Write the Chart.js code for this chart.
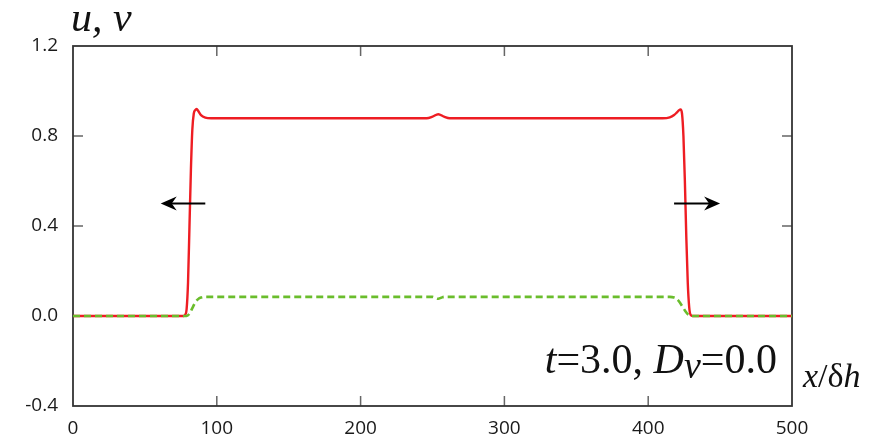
<!DOCTYPE html>
<html>
<head>
<meta charset="utf-8">
<script src="https://cdn.jsdelivr.net/npm/chart.js@4.4.1/dist/chart.umd.min.js"></script>
<style>
  html, body { margin: 0; padding: 0; background: #fff; }
  #wrap { width: 879px; height: 439px; }
</style>
</head>
<body>
<div id="wrap"><canvas id="chart" width="879" height="439"></canvas></div>
<script>
// u profile (red, solid)
const uX = [0, 77, 78, 79, 80, 81, 82, 83, 84, 85, 86, 87, 89, 92, 96, 150, 240, 246, 250, 254, 258, 262, 268, 350, 410, 415, 418, 420, 421.5, 422.5, 423.5, 424.5, 425.5, 426.5, 427.5, 428.5, 429.5, 431, 500];
const uY = [0, 0, 0.005, 0.03, 0.15, 0.4, 0.65, 0.83, 0.9, 0.915, 0.92, 0.912, 0.893, 0.882, 0.879, 0.879, 0.879, 0.879, 0.886, 0.897, 0.886, 0.879, 0.879, 0.879, 0.879, 0.883, 0.893, 0.905, 0.915, 0.918, 0.9, 0.8, 0.6, 0.35, 0.15, 0.04, 0.005, 0, 0];

// v profile (green, dashed)
const vX = [0, 79, 81, 83, 85, 87, 89, 92, 150, 250, 252, 254, 256, 258, 350, 415, 418, 420, 422, 424, 426, 428, 430, 500];
const vY = [0, 0, 0.01, 0.035, 0.06, 0.075, 0.082, 0.085, 0.085, 0.085, 0.081, 0.077, 0.081, 0.085, 0.085, 0.085, 0.082, 0.075, 0.06, 0.04, 0.02, 0.005, 0, 0];

const xTicks = [0, 100, 200, 300, 400, 500];
const yTicks = [-0.4, 0.0, 0.4, 0.8, 1.2];

// arrows, in data units: [tailX, tipX, y]
const arrows = [[92, 61, 0.5], [418, 450, 0.5]];

const toPoints = (xs, ys) => xs.map((x, i) => ({ x: x, y: ys[i] }));

const framePlugin = {
  id: 'frame',
  beforeDatasetsDraw(chart) {
    const { ctx, chartArea: a, scales } = chart;
    ctx.save();
    ctx.strokeStyle = '#666';
    ctx.lineWidth = 1.5;
    // inward ticks
    xTicks.slice(1, -1).forEach(v => {
      const px = scales.x.getPixelForValue(v);
      ctx.beginPath();
      ctx.moveTo(px, a.bottom); ctx.lineTo(px, a.bottom - 10);
      ctx.moveTo(px, a.top); ctx.lineTo(px, a.top + 10);
      ctx.stroke();
    });
    yTicks.slice(1, -1).forEach(v => {
      const py = scales.y.getPixelForValue(v);
      ctx.beginPath();
      ctx.moveTo(a.left, py); ctx.lineTo(a.left + 10, py);
      ctx.moveTo(a.right, py); ctx.lineTo(a.right - 10, py);
      ctx.stroke();
    });
    ctx.strokeStyle = '#333';
    ctx.lineWidth = 1.8;
    ctx.strokeRect(a.left, a.top, a.right - a.left, a.bottom - a.top);
    ctx.restore();
  },
  afterDraw(chart) {
    const { ctx, scales } = chart;
    ctx.save();
    // arrows
    ctx.strokeStyle = '#000';
    ctx.fillStyle = '#000';
    ctx.lineWidth = 2.2;
    arrows.forEach(([x0, x1, yv]) => {
      const p0 = scales.x.getPixelForValue(x0);
      const p1 = scales.x.getPixelForValue(x1);
      const py = scales.y.getPixelForValue(yv);
      const dir = Math.sign(p1 - p0);
      ctx.beginPath();
      ctx.moveTo(p0, py); ctx.lineTo(p1 - dir * 8, py);
      ctx.stroke();
      ctx.beginPath();
      ctx.moveTo(p1, py);
      ctx.lineTo(p1 - dir * 16, py - 7);
      ctx.lineTo(p1 - dir * 11, py);
      ctx.lineTo(p1 - dir * 16, py + 7);
      ctx.closePath();
      ctx.fill();
    });

    // texts
    ctx.fillStyle = '#111';
    ctx.textBaseline = 'alphabetic';
    ctx.textAlign = 'left';
    ctx.font = 'italic 42px "Liberation Serif"';
    ctx.fillText('u, v', 71, 31);

    const big = 42;
    const segs = [
      { t: 't', it: true, dy: 0, sz: big },
      { t: '=3.0, ', it: false, dy: 0, sz: big },
      { t: 'D', it: true, dy: 0, sz: big },
      { t: 'v', it: true, dy: 5, sz: 38 },
      { t: '=0.0', it: false, dy: 0, sz: big }
    ];
    const fontOf = s => (s.it ? 'italic ' : '') + s.sz + 'px "Liberation Serif"';
    let total = 0;
    segs.forEach(s => { ctx.font = fontOf(s); total += ctx.measureText(s.t).width; });
    let x = 777 - total;
    segs.forEach(s => {
      ctx.font = fontOf(s);
      ctx.fillText(s.t, x, 373 + s.dy);
      x += ctx.measureText(s.t).width;
    });

    const lab = [
      { t: 'x', it: true },
      { t: '/', it: false },
      { t: 'δ', it: false },
      { t: 'h', it: true }
    ];
    x = 803;
    lab.forEach(s => {
      ctx.font = (s.it ? 'italic ' : '') + '34px "Liberation Serif"';
      ctx.fillText(s.t, x, 387);
      x += ctx.measureText(s.t).width;
    });
    ctx.restore();
  }
};

new Chart(document.getElementById('chart'), {
  type: 'line',
  data: {
    datasets: [
      {
        label: 'u',
        data: toPoints(uX, uY),
        borderColor: '#ee1d23',
        borderWidth: 2.4,
        pointRadius: 0,
        cubicInterpolationMode: 'monotone',
        order: 2
      },
      {
        label: 'v',
        data: toPoints(vX, vY),
        borderColor: '#6abd2c',
        borderWidth: 2.6,
        borderDash: [7, 4],
        pointRadius: 0,
        cubicInterpolationMode: 'monotone',
        order: 1
      }
    ]
  },
  options: {
    responsive: false,
    animation: false,
    layout: { padding: { top: 46, right: 87, left: 0, bottom: 0 } },
    plugins: { legend: { display: false }, tooltip: { enabled: false } },
    scales: {
      x: {
        type: 'linear',
        min: 0, max: 500,
        grid: { display: false, drawTicks: false },
        border: { display: false },
        afterBuildTicks: s => { s.ticks = xTicks.map(v => ({ value: v })); },
        afterFit: s => { s.height = 33; },
        ticks: {
          padding: 11,
          color: '#1a1a1a',
          font: { family: '"Open Sans"', size: 19 },
          maxRotation: 0,
          callback: v => String(v)
        }
      },
      y: {
        type: 'linear',
        min: -0.4, max: 1.2,
        grid: { display: false, drawTicks: false },
        border: { display: false },
        afterBuildTicks: s => { s.ticks = yTicks.map(v => ({ value: v })); },
        afterFit: s => { s.width = 73; },
        ticks: {
          padding: 15,
          color: '#1a1a1a',
          font: { family: '"Open Sans"', size: 19 },
          callback: v => v.toFixed(1)
        }
      }
    }
  },
  plugins: [framePlugin]
});
</script>
</body>
</html>
